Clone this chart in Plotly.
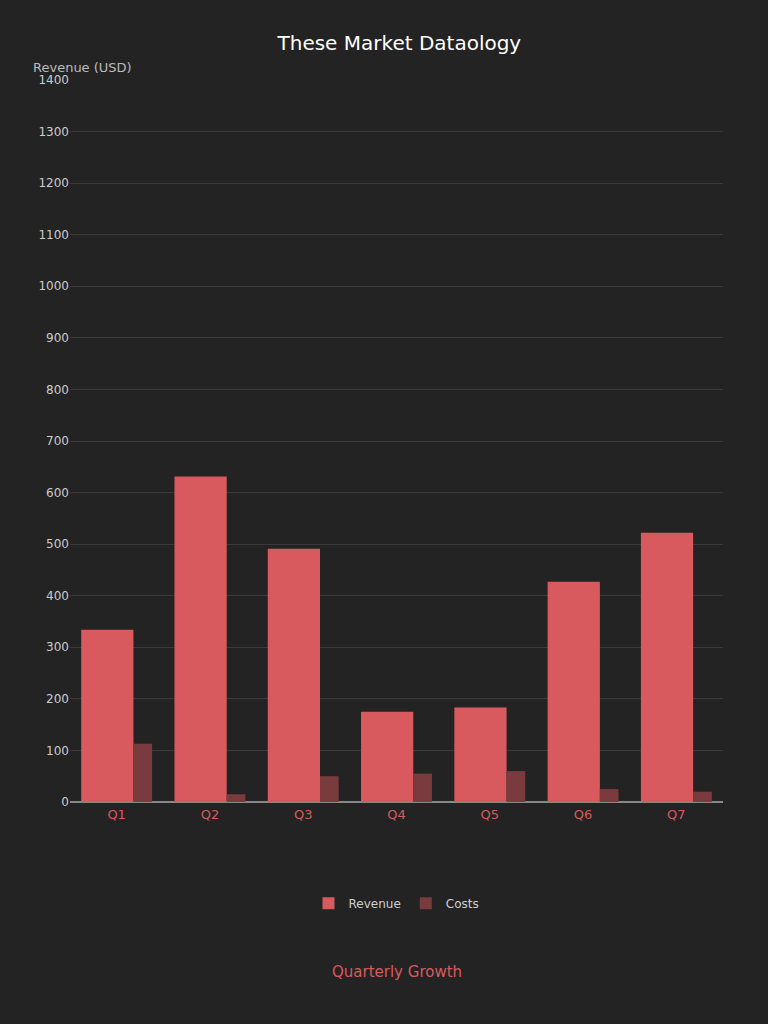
import plotly.graph_objects as go

categories = ["Q1", "Q2", "Q3", "Q4", "Q5", "Q6", "Q7"]
main_values = [334, 631, 491, 175, 183, 427, 522]
side_values = [113, 15, 50, 55, 60, 25, 20]
tick_vals = list(range(0, 1401, 100))

fig = go.Figure()
fig.add_bar(x=categories, y=main_values, name="Revenue", offset=-0.38, width=0.56,
            marker=dict(color="#d95a5e", line=dict(width=0)))
fig.add_bar(x=categories, y=side_values, name="Costs", offset=0.18, width=0.2,
            marker=dict(color="#7a3b3e", line=dict(width=0)))

fig.update_layout(
    width=768, height=1024,
    paper_bgcolor="#232323", plot_bgcolor="#232323",
    barmode="overlay",
    title=dict(text="These Market Dataology", x=0.52, y=0.965,
               font=dict(family="DejaVu Sans", size=20, color="#ffffff")),
    margin=dict(l=70, r=45, t=80, b=222),
    showlegend=True,
    legend=dict(orientation="h", x=0.5, xanchor="center", y=-0.12,
                font=dict(color="#cfcfcf", size=12)),
    font=dict(family="DejaVu Sans", color="#cfcfcf", size=12),
    annotations=[
        dict(text="Revenue (USD)", x=-0.06, y=1.03, xref="paper", yref="paper",
             showarrow=False, xanchor="left", font=dict(color="#bbbbbb", size=13)),
        dict(text="Quarterly Growth", x=0.5, y=-0.25, xref="paper", yref="paper",
             showarrow=False, font=dict(color="#d95a5e", size=15)),
    ],
)
fig.update_yaxes(range=[0, 1400], tickvals=tick_vals, gridcolor="#3a3a3a",
                 zeroline=True, zerolinecolor="#888888", tickfont=dict(color="#cccccc"))
fig.update_xaxes(showgrid=False, tickfont=dict(color="#d95a5e", size=13),
                 linecolor="#888888", showline=True)

fig.write_html("out.html", config={"displayModeBar": False},
               post_script="document.body.style.margin='0';document.body.style.background='#232323';")
